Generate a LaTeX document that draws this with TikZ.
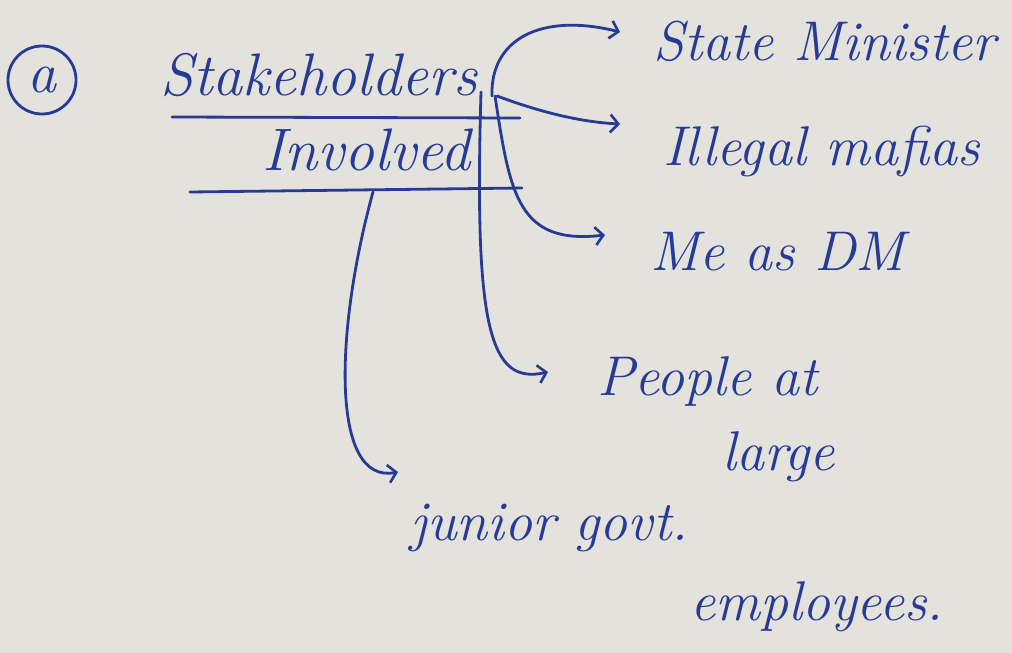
\documentclass[tikz,border=0pt]{standalone}
\usepackage{fontspec}
\usetikzlibrary{arrows.meta}
\definecolor{paper}{RGB}{227,226,221}
\definecolor{ink}{RGB}{38,58,150}
\tikzstyle{arrow} = [draw=ink, line width=2.8pt, line cap=round, -{Straight Barb[length=8pt,width=18pt,line width=2.6pt]}]
\tikzstyle{rule} = [draw=ink, line width=2.8pt, line cap=round]
\tikzstyle{hand} = [text=ink, font=\fontsize{56}{60}\selectfont\itshape, inner sep=0pt, anchor=base west]
\begin{document}
\begin{tikzpicture}[x=1pt, y=-1pt]
\fill [paper] (0,0) rectangle (1012,653);

\node (a) [circle, draw=ink, text=ink, line width=2.8pt, minimum size=68pt, inner sep=0pt, font=\fontsize{58}{58}\selectfont\itshape] at (42,80) {a};
\node (stake) [hand, font=\fontsize{60}{64}\selectfont\itshape] at (160,95) {Stakeholders};
\node (inv) [hand, font=\fontsize{60}{64}\selectfont\itshape] at (262,170) {Involved};
\node (sm) [hand] at (653,60) {State Minister};
\node (im) [hand] at (663,165) {Illegal mafias};
\node (me) [hand] at (650,270) {Me as DM};
\node (pa) [hand] at (597,395) {People at};
\node (lg) [hand] at (722,470) {large};
\node (jg) [hand] at (410,540) {junior govt.};
\node (em) [hand] at (690,620) {employees.};

\coordinate (hub) at (492,96);
\coordinate (root) at (373,192);

\draw [rule] (172,117) -- (520,118);
\draw [rule] (190,192) -- (522,188);

\draw [arrow] (hub) .. controls (490,40) and (540,12) .. ([xshift=-33pt,yshift=28pt]sm.base west);
\draw [arrow] ([xshift=5pt]hub) .. controls (540,112) and (580,122) .. ([xshift=-43pt,yshift=41pt]im.base west);
\draw [arrow] ([xshift=3pt]hub) .. controls (510,195) and (518,245) .. ([xshift=-45pt,yshift=35pt]me.base west);
\draw [arrow] ([xshift=-11pt,yshift=4pt]hub) .. controls (474,330) and (490,385) .. ([xshift=-49pt,yshift=23pt]pa.base west);
\draw [arrow] (root) .. controls (335,330) and (330,485) .. ([xshift=-12pt,yshift=68pt]jg.base west);

\end{tikzpicture}
\end{document}
